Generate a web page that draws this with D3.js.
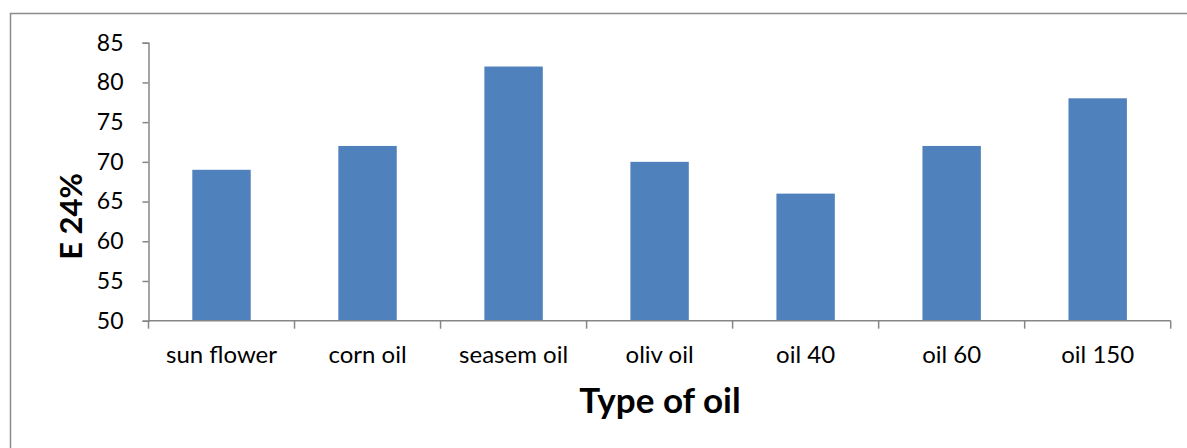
<!DOCTYPE html>
<html>
<head>
<meta charset="utf-8">
<script src="https://cdn.jsdelivr.net/npm/d3@7"></script>
<style>
  html, body { margin: 0; padding: 0; background: #fff; }
  svg { display: block; font-family: Lato, "Open Sans", sans-serif; }
</style>
</head>
<body>
<svg id="chart" width="1187" height="448"></svg>
<script>
// Oil types and their E 24% values
const categories = ["sun flower", "corn oil", "seasem oil", "oliv oil", "oil 40", "oil 60", "oil 150"];
const values = [69, 72, 82, 70, 66, 72, 78];
const yTicks = [50, 55, 60, 65, 70, 75, 80, 85];

const svg = d3.select("#chart");
const axisColor = "#868686";

// Outer frame of the chart area
svg.append("rect")
  .attr("x", 10.5).attr("y", 13.5)
  .attr("width", 1200).attr("height", 460)
  .attr("fill", "none").attr("stroke", "#8c8c8c").attr("stroke-width", 1.5);

const plot = { left: 148.5, right: 1170.7, top: 42.7, bottom: 320.7 };

const x = d3.scaleBand().domain(categories)
  .range([plot.left, plot.right]).paddingInner(0.6).paddingOuter(0.3);
const xEdges = d3.scaleLinear().domain([0, categories.length]).range([plot.left, plot.right]);
const y = d3.scaleLinear().domain([50, 85]).range([plot.bottom, plot.top]);

// Bars
svg.append("g").selectAll("rect").data(values).join("rect")
  .attr("x", (d, i) => x(categories[i]))
  .attr("width", x.bandwidth())
  .attr("y", d => y(d))
  .attr("height", d => y(50) - y(d))
  .attr("fill", "#4F81BD");

// Y axis
const yAxis = svg.append("g").attr("transform", `translate(${plot.left},0)`)
  .call(d3.axisLeft(y).tickValues(yTicks).tickSize(6).tickPadding(19));
yAxis.select(".domain").attr("stroke", axisColor).attr("stroke-width", 1.5);
yAxis.selectAll(".tick line").attr("stroke", axisColor).attr("stroke-width", 1.5);
yAxis.selectAll(".tick text").attr("fill", "#000").attr("font-size", 23)
  .attr("font-family", "Lato, 'Open Sans', sans-serif");

// X axis: baseline with tick marks between categories
const xg = svg.append("g");
xg.append("line")
  .attr("x1", plot.left).attr("x2", plot.right)
  .attr("y1", plot.bottom).attr("y2", plot.bottom)
  .attr("stroke", axisColor).attr("stroke-width", 1.5);
xg.selectAll("line.tick").data(d3.range(categories.length + 1)).join("line")
  .attr("class", "tick")
  .attr("x1", d => xEdges(d)).attr("x2", d => xEdges(d))
  .attr("y1", plot.bottom).attr("y2", plot.bottom + 8)
  .attr("stroke", axisColor).attr("stroke-width", 1.5);
xg.selectAll("text").data(categories).join("text")
  .attr("x", d => x(d) + x.bandwidth() / 2)
  .attr("y", 363)
  .attr("text-anchor", "middle")
  .attr("font-size", 24)
  .attr("fill", "#000")
  .text(d => d);

// Axis titles
svg.append("text")
  .attr("transform", `translate(82,216.5) rotate(-90)`)
  .attr("text-anchor", "middle")
  .attr("font-size", 31).attr("font-weight", "bold")
  .text("E 24%");

svg.append("text")
  .attr("x", 660).attr("y", 413)
  .attr("text-anchor", "middle")
  .attr("font-size", 35).attr("font-weight", "bold")
  .text("Type of oil");
</script>
</body>
</html>
